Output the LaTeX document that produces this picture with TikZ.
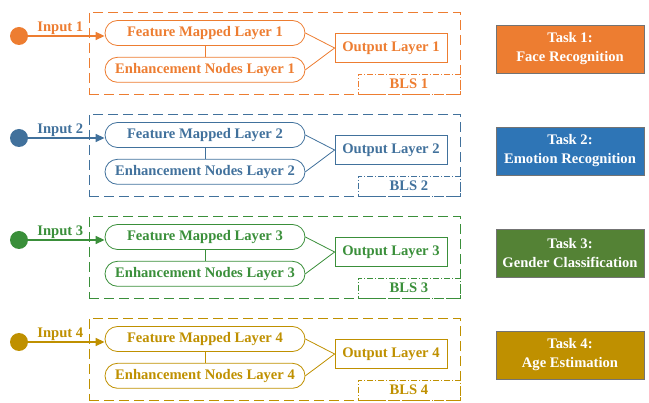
\documentclass[tikz,border=0pt]{standalone}
\usepackage{fontspec}
\setmainfont{Liberation Serif}
\usetikzlibrary{arrows.meta,positioning}
\definecolor{lineorange}{HTML}{ED7D31}
\definecolor{lineblue}{HTML}{41719C}
\definecolor{taskblue}{HTML}{2E75B6}
\definecolor{linegreen}{HTML}{3A8F3A}
\definecolor{taskgreen}{HTML}{548235}
\definecolor{linegold}{HTML}{BF9000}

\begin{document}
\begin{tikzpicture}[
    x=1pt, y=-1pt,
    every node/.style={font=\fontsize{14.6}{19}\selectfont\bfseries},
    layerbox/.style={draw=#1, text=#1, rounded corners=12.5pt, minimum width=200pt, minimum height=25pt, inner sep=0pt, line width=0.8pt},
    outlayer/.style={draw=#1, text=#1, minimum width=112pt, minimum height=29pt, inner sep=0pt, line width=0.8pt},
    blsframe/.style={draw=#1, dash pattern=on 10pt off 5pt, minimum width=371pt, minimum height=82pt, line width=0.8pt},
    blstag/.style={draw=#1, text=#1, dash pattern=on 6pt off 2pt on 1pt off 2pt, minimum width=102pt, minimum height=20pt, inner sep=0pt, anchor=south east, line width=0.8pt},
    source/.style={circle, fill=#1, minimum size=18pt, inner sep=0pt},
    task/.style={draw=black!55, fill=#1, text=white, align=center, minimum width=148pt, minimum height=48pt, inner sep=0pt},
    flow/.style={-{Triangle[length=9pt, width=8pt]}, line width=1.4pt, draw=#1},
    inlabel/.style={above, pos=0.42, inner sep=1pt, text=#1},
    link/.style={draw=#1, line width=0.8pt}
]
\useasboundingbox (0,0) rectangle (649,403);

% BLS 1
\node[source=lineorange] (in1) at (19,36) {};
\node[layerbox=lineorange] (fml1) at (205,33) {Feature Mapped Layer 1};
\node[layerbox=lineorange, below=11pt of fml1] (enl1) {Enhancement Nodes Layer 1};
\node[outlayer=lineorange] (out1) at (391,48) {Output Layer 1};
\node[blsframe=lineorange] (bls1) at (274.5,53) {};
\node[blstag=lineorange] (tag1) at (bls1.south east) {BLS 1};
\node[task=lineorange] (task1) at (570,49) {Task 1:\\Face Recognition};
\draw[flow=lineorange] (in1) -- node[inlabel=lineorange] {Input 1} (in1 -| fml1.west);
\draw[link=lineorange] (fml1) -- (enl1);
\draw[link=lineorange] (fml1.east) -- (out1.west) -- (enl1.east);

% BLS 2
\node[source=lineblue] (in2) at (19,138) {};
\node[layerbox=lineblue] (fml2) at (205,135) {Feature Mapped Layer 2};
\node[layerbox=lineblue, below=11pt of fml2] (enl2) {Enhancement Nodes Layer 2};
\node[outlayer=lineblue] (out2) at (391,150) {Output Layer 2};
\node[blsframe=lineblue] (bls2) at (274.5,155) {};
\node[blstag=lineblue] (tag2) at (bls2.south east) {BLS 2};
\node[task=taskblue] (task2) at (570,151) {Task 2:\\Emotion Recognition};
\draw[flow=lineblue] (in2) -- node[inlabel=lineblue] {Input 2} (in2 -| fml2.west);
\draw[link=lineblue] (fml2) -- (enl2);
\draw[link=lineblue] (fml2.east) -- (out2.west) -- (enl2.east);

% BLS 3
\node[source=linegreen] (in3) at (19,240) {};
\node[layerbox=linegreen] (fml3) at (205,237) {Feature Mapped Layer 3};
\node[layerbox=linegreen, below=11pt of fml3] (enl3) {Enhancement Nodes Layer 3};
\node[outlayer=linegreen] (out3) at (391,252) {Output Layer 3};
\node[blsframe=linegreen] (bls3) at (274.5,257) {};
\node[blstag=linegreen] (tag3) at (bls3.south east) {BLS 3};
\node[task=taskgreen] (task3) at (570,253) {Task 3:\\Gender Classification};
\draw[flow=linegreen] (in3) -- node[inlabel=linegreen] {Input 3} (in3 -| fml3.west);
\draw[link=linegreen] (fml3) -- (enl3);
\draw[link=linegreen] (fml3.east) -- (out3.west) -- (enl3.east);

% BLS 4
\node[source=linegold] (in4) at (19,342) {};
\node[layerbox=linegold] (fml4) at (205,339) {Feature Mapped Layer 4};
\node[layerbox=linegold, below=11pt of fml4] (enl4) {Enhancement Nodes Layer 4};
\node[outlayer=linegold] (out4) at (391,354) {Output Layer 4};
\node[blsframe=linegold] (bls4) at (274.5,359) {};
\node[blstag=linegold] (tag4) at (bls4.south east) {BLS 4};
\node[task=linegold] (task4) at (570,355) {Task 4:\\Age Estimation};
\draw[flow=linegold] (in4) -- node[inlabel=linegold] {Input 4} (in4 -| fml4.west);
\draw[link=linegold] (fml4) -- (enl4);
\draw[link=linegold] (fml4.east) -- (out4.west) -- (enl4.east);
\end{tikzpicture}
\end{document}
